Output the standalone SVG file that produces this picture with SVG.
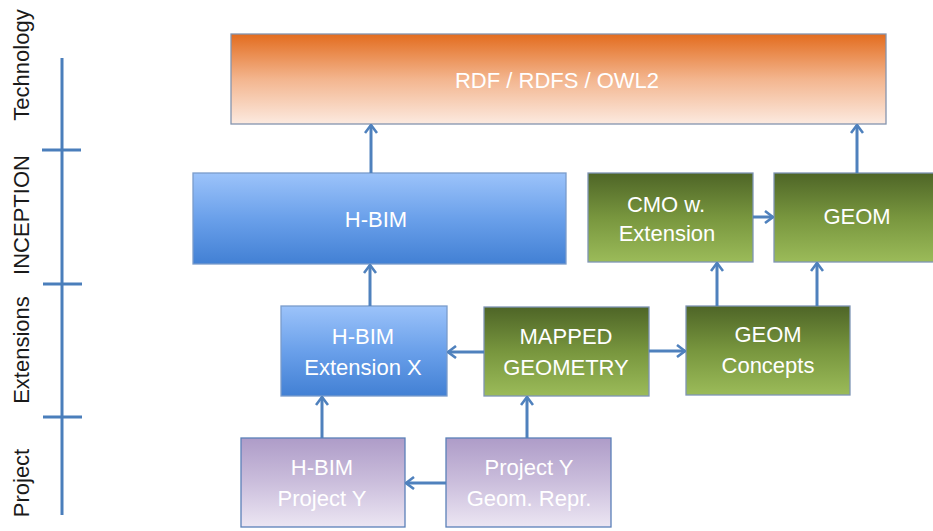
<svg xmlns="http://www.w3.org/2000/svg" width="933" height="531" viewBox="0 0 933 531">
<style>
text{font-family:"Liberation Sans",Arial,sans-serif;fill:#ffffff;font-size:22px;text-anchor:middle}
.ax{fill:#1a1a1a;font-size:22px}
.box{stroke-width:1.3}
.conn line{stroke:#4F81BD;stroke-width:3;fill:none;marker-end:url(#ah)}
.axis line{stroke:#4A7EBB;stroke-width:3}
</style>
<defs>
<linearGradient id="gTech" x1="0" y1="0" x2="0" y2="1">
<stop offset="0" stop-color="#E36C1E"/>
<stop offset="0.5" stop-color="#F3B58E"/>
<stop offset="1" stop-color="#FCEAE0"/>
</linearGradient>
<linearGradient id="gBlue" x1="0" y1="0" x2="0" y2="1">
<stop offset="0" stop-color="#9CC3FA"/>
<stop offset="0.5" stop-color="#6AA0EA"/>
<stop offset="1" stop-color="#4280D4"/>
</linearGradient>
<linearGradient id="gGreen" x1="0" y1="0" x2="0" y2="1">
<stop offset="0" stop-color="#4E6527"/>
<stop offset="0.5" stop-color="#78963E"/>
<stop offset="1" stop-color="#9BBB59"/>
</linearGradient>
<linearGradient id="gPurple" x1="0" y1="0" x2="0" y2="1">
<stop offset="0" stop-color="#AE9CC8"/>
<stop offset="0.5" stop-color="#CBBEDC"/>
<stop offset="1" stop-color="#ECE6F3"/>
</linearGradient>
<marker id="ah" viewBox="0 0 10 14" refX="9" refY="7" markerWidth="10" markerHeight="14" markerUnits="userSpaceOnUse" orient="auto">
<path d="M1,1 L9,7 L1,13" fill="none" stroke="#4F81BD" stroke-width="2.6" stroke-linejoin="miter"/>
</marker>
</defs>

<g id="axis" class="axis">
<line x1="62" y1="58" x2="62" y2="515"/>
<line x1="42" y1="150" x2="81" y2="150"/>
<line x1="43" y1="284" x2="82" y2="284"/>
<line x1="43" y1="417" x2="82" y2="417"/>
<text class="ax" transform="translate(29,65) rotate(-90)">Technology</text>
<text class="ax" transform="translate(29,215) rotate(-90)">INCEPTION</text>
<text class="ax" transform="translate(29,350) rotate(-90)">Extensions</text>
<text class="ax" transform="translate(29,483) rotate(-90)">Project</text>
</g>

<g id="technology">
<rect class="box" x="231" y="34" width="655" height="90" fill="url(#gTech)" stroke="#8494AE"/>
<text x="557" y="88">RDF / RDFS / OWL2</text>
</g>

<g id="hbim">
<rect class="box" x="193" y="173" width="373" height="91" fill="url(#gBlue)" stroke="#7A9CCB"/>
<text x="376" y="227">H-BIM</text>
</g>

<g id="cmo">
<rect class="box" x="588" y="173" width="165" height="89" fill="url(#gGreen)" stroke="#7F95B5"/>
<text x="666" y="212">CMO w.</text>
<text x="667" y="241">Extension</text>
</g>

<g id="geom">
<rect class="box" x="774" y="173" width="160" height="89" fill="url(#gGreen)" stroke="#7F95B5"/>
<text x="857" y="224">GEOM</text>
</g>

<g id="hbim-ext">
<rect class="box" x="281" y="306" width="166" height="90" fill="url(#gBlue)" stroke="#7A9CCB"/>
<text x="363" y="344">H-BIM</text>
<text x="363" y="375">Extension X</text>
</g>

<g id="mapped">
<rect class="box" x="484" y="307" width="165" height="89" fill="url(#gGreen)" stroke="#7F95B5"/>
<text x="566" y="344">MAPPED</text>
<text x="566" y="375">GEOMETRY</text>
</g>

<g id="geom-concepts">
<rect class="box" x="686" y="306" width="164" height="89" fill="url(#gGreen)" stroke="#7F95B5"/>
<text x="768" y="342">GEOM</text>
<text x="768" y="373">Concepts</text>
</g>

<g id="hbim-project">
<rect class="box" x="241" y="438" width="164" height="89" fill="url(#gPurple)" stroke="#5B80B8"/>
<text x="322" y="475">H-BIM</text>
<text x="322" y="506">Project Y</text>
</g>

<g id="project-geom">
<rect class="box" x="446" y="438" width="165" height="89" fill="url(#gPurple)" stroke="#5B80B8"/>
<text x="529" y="475">Project Y</text>
<text x="529" y="506">Geom. Repr.</text>
</g>

<g id="connectors" class="conn">
<line x1="371" y1="173" x2="371" y2="125"/>
<line x1="857" y1="173" x2="857" y2="125"/>
<line x1="753" y1="217" x2="773" y2="217"/>
<line x1="370" y1="306" x2="370" y2="265"/>
<line x1="717" y1="306" x2="717" y2="263"/>
<line x1="817" y1="306" x2="817" y2="263"/>
<line x1="484" y1="352" x2="448" y2="352"/>
<line x1="649" y1="351" x2="685" y2="351"/>
<line x1="322" y1="438" x2="322" y2="397"/>
<line x1="527" y1="438" x2="527" y2="397"/>
<line x1="446" y1="483" x2="406" y2="483"/>
</g>
</svg>
